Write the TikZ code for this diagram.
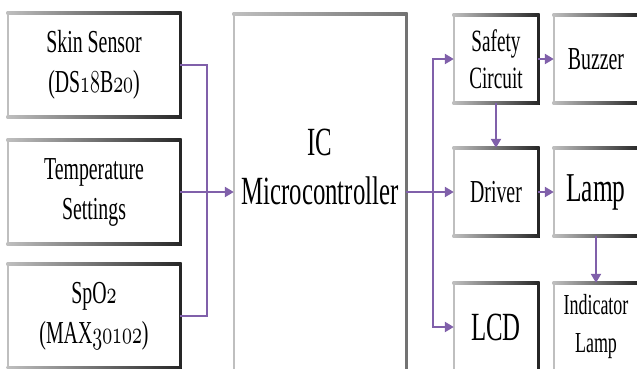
\documentclass[tikz,border=0pt]{standalone}
\usepackage{fontspec}
\setmainfont{Liberation Serif}[FakeStretch=0.62]
\usetikzlibrary{arrows.meta}

\definecolor{linkpurple}{RGB}{128,96,170}

% scalable old style figures
\DeclareFontShape{OML}{cmm}{m}{it}{<->cmmi10}{}
\providecommand\legacyoldstylenums{\oldstylenums}
\newcommand\osn[1]{\scalebox{0.62}[1]{\legacyoldstylenums{#1}}}

% shaded frame round a block: light left/top, dark right/bottom
\newcommand\blockframe[3]{%
    \fill[#2] ([shift={(-1.3pt,1.3pt)}]#1.north west) rectangle ([shift={(1.3pt,-1.3pt)}]#1.south west);
    \fill[#3] ([shift={(-1.3pt,1.3pt)}]#1.north east) rectangle ([shift={(1.3pt,-1.3pt)}]#1.south east);
    \fill[left color=#2, right color=#3] ([shift={(-1.3pt,1.3pt)}]#1.north west) rectangle ([shift={(1.3pt,-1.3pt)}]#1.north east);
    \fill[left color=#2, right color=#3] ([shift={(-1.3pt,1.3pt)}]#1.south west) rectangle ([shift={(1.3pt,-1.3pt)}]#1.south east);
}

\begin{document}
\begin{tikzpicture}
    [
        x=1pt, y=-1pt,
        inblock/.style={
                inner sep=0pt,
                minimum width=172pt,
                minimum height=104pt,
                align=center,
                font=\fontsize{32}{40}\selectfont,
            },
        outblock/.style={
                inner sep=0pt,
                minimum width=84pt,
                minimum height=88pt,
                align=center,
                font=#1,
            },
        link/.style={
                draw=linkpurple,
                line width=2.4pt,
                -{Triangle[length=9pt,width=10pt]},
            },
        wire/.style={
                draw=linkpurple,
                line width=2.4pt,
            },
    ]

    \useasboundingbox (0,0) rectangle (637,368);
    \clip (0,0) rectangle (637,368);

    % inputs
    \node [inblock] (skin) at (94,65) {Skin Sensor\\(DS\osn{18}B\osn{20})};
    \node [inblock] (temp) at (94,192) {Temperature\\Settings};
    \node [inblock] (spo2) at (94,316) {SpO\osn{2}\\(MAX\osn{30102})};

    % controller
    \node [inner sep=0pt, minimum width=172pt, minimum height=386pt] (ic) at (320,207) {};
    \node [align=center, font=\fontsize{40}{49}\selectfont] (icname) at (320,167) {IC\\Microcontroller};

    % outputs
    \node [outblock=\fontsize{31}{37}\selectfont] (safety) at (496,59) {Safety\\Circuit};
    \node [outblock=\fontsize{32}{39}\selectfont] (buzzer) at (596,59) {Buzzer};
    \node [outblock=\fontsize{32}{39}\selectfont] (driver) at (496,192) {Driver};
    \node [outblock=\fontsize{41}{49}\selectfont] (lamp) at (596,192) {Lamp};
    \node [outblock=\fontsize{40}{49}\selectfont] (lcd) at (496,327) {LCD};
    \node [outblock=\fontsize{29}{38}\selectfont] (indic) at (596,327) {Indicator\\Lamp};

    % frames
    \foreach \b in {skin,temp,spo2,safety,buzzer,driver,lamp,lcd,indic}
        {
            \blockframe{\b}{black!25}{black!85}
        }
    \blockframe{ic}{black!25}{black!55}

    % junctions
    \coordinate (join) at (207,192);
    \coordinate (bus) at (433,192);

    % connections
    \draw [wire] (skin.east) -| (join) |- (spo2.east);
    \draw [link] (temp.east) -- (ic.west |- temp.east);
    \draw [link] (ic.east |- driver.west) -- (driver.west);
    \draw [link, {Triangle[length=9pt,width=10pt]}-{Triangle[length=9pt,width=10pt]}] (safety.west) -| (bus) |- (lcd.west);
    \draw [link] (safety.east) -- (buzzer.west);
    \draw [link] (safety.south) -- (driver.north);
    \draw [link] (driver.east) -- (lamp.west);
    \draw [link] (lamp.south) -- (indic.north);
\end{tikzpicture}
\end{document}
